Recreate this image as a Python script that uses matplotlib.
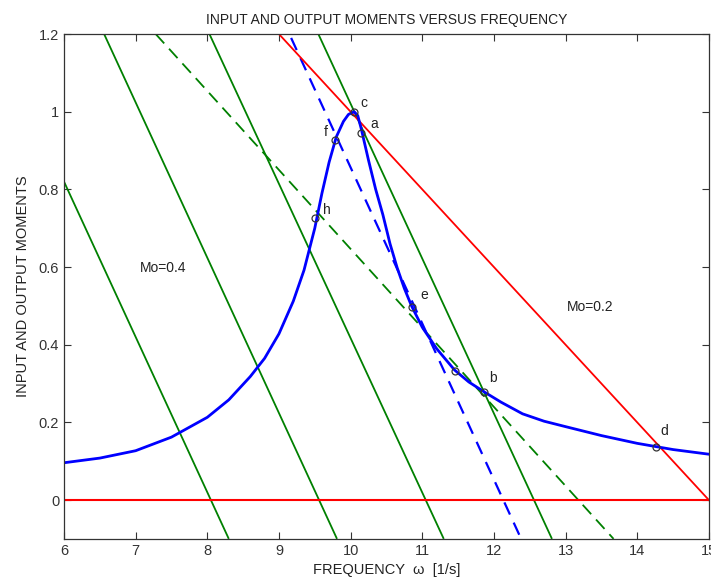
import matplotlib
matplotlib.use("Agg")
import matplotlib.pyplot as plt
from matplotlib import font_manager

# ---- data ----
resp_x = [6.0, 6.5, 7.0, 7.5, 8.0, 8.3, 8.6, 8.8, 9.0, 9.2, 9.35, 9.5, 9.6, 9.7, 9.8, 9.9,
          9.97, 10.05, 10.1, 10.15, 10.25, 10.35, 10.45, 10.55, 10.65, 10.75, 10.85, 11.0,
          11.2, 11.45, 11.65, 11.86, 12.1, 12.4, 12.7, 13.0, 13.5, 14.0, 14.5, 15.0]
resp_y = [0.096, 0.108, 0.127, 0.162, 0.213, 0.258, 0.318, 0.365, 0.428, 0.512, 0.592, 0.70, 0.79,
          0.87, 0.935, 0.975, 0.993, 1.0, 0.99, 0.955, 0.875, 0.80, 0.735, 0.66, 0.598, 0.545,
          0.50, 0.445, 0.39, 0.335, 0.304, 0.279, 0.252, 0.222, 0.203, 0.189, 0.166, 0.146, 0.130, 0.118]

# solid green lines (x at y=1.2 and x at y=-0.1)
green_top_x = [5.05, 6.56, 8.03, 9.55]
green_bot_x = [8.30, 9.81, 11.30, 12.81]
line_y_ends = [1.2, -0.1]

green_dash_x = [7.28, 13.67]
blue_dash_x = [9.17, 12.38]
blue_dash_y = [1.19, -0.1]

red_x = [9.0, 15.0]
red_y = [1.2, 0.0]
red_h_x = [6.0, 15.0]
red_h_y = [0.0, 0.0]

pt_labels = ["c", "a", "f", "h", "e", "", "b", "d"]
pt_x = [10.05, 10.15, 9.78, 9.50, 10.85, 11.46, 11.86, 14.26]
pt_y = [0.998, 0.945, 0.928, 0.726, 0.498, 0.333, 0.279, 0.136]
label_x = [10.13, 10.27, 9.62, 9.62, 10.97, 11.07, 11.94, 14.32]
label_y = [1.005, 0.95, 0.93, 0.73, 0.51, 0.3, 0.295, 0.16]

text_items = ["Mo=0.4", "Mo=0.2"]
text_x = [7.38, 13.34]
text_y = [0.598, 0.497]

xticks = [6, 7, 8, 9, 10, 11, 12, 13, 14, 15]
yticks = [0, 0.2, 0.4, 0.6, 0.8, 1.0, 1.2]
ytick_labels = ["0", "0.2", "0.4", "0.6", "0.8", "1", "1.2"]

# ---- font ----
names = {f.name for f in font_manager.fontManager.ttflist}
fam = ["Liberation Sans Narrow", "DejaVu Sans"] if "Liberation Sans Narrow" in names else ["Liberation Sans", "DejaVu Sans"]
plt.rcParams["font.family"] = fam

fig = plt.figure(figsize=(7.11, 5.87), dpi=100)
ax = fig.add_axes([0.090, 0.082, 0.907, 0.860])

green = "#008000"
for xt, xb in zip(green_top_x, green_bot_x):
    ax.plot([xt, xb], line_y_ends, color=green, lw=1.3, solid_capstyle="butt")
ax.plot(green_dash_x, line_y_ends, color=green, lw=1.3, dashes=(7, 4))
ax.plot(blue_dash_x, blue_dash_y, color="#0000ff", lw=1.6, dashes=(6, 4))
ax.plot(red_x, red_y, color="#ff0000", lw=1.3)
ax.plot(red_h_x, red_h_y, color="#ff0000", lw=1.5)
ax.plot(resp_x, resp_y, color="#0000ff", lw=2.0, solid_joinstyle="round")

ax.plot(pt_x, pt_y, linestyle="none", marker="o", markersize=5, markerfacecolor="none",
        markeredgecolor="#333333", markeredgewidth=0.9)
for lab, lx, ly in zip(pt_labels, label_x, label_y):
    if lab:
        ax.text(lx, ly, lab, fontsize=10, color="#222222", ha="left", va="bottom")

for t, tx, ty in zip(text_items, text_x, text_y):
    ax.text(tx, ty, t, fontsize=10, color="#222222", ha="center", va="center")

ax.set_xlim(6, 15)
ax.set_ylim(-0.1, 1.2)
ax.set_xticks(xticks)
ax.set_yticks(yticks)
ax.set_yticklabels(ytick_labels)
ax.tick_params(direction="in", length=5, top=True, right=True, labelsize=10.5, colors="#333333")
for s in ax.spines.values():
    s.set_color("#333333")
    s.set_linewidth(0.9)

ax.set_title("INPUT AND OUTPUT MOMENTS VERSUS FREQUENCY", fontsize=10, color="#222222", pad=7)
ax.set_xlabel("FREQUENCY  ω  [1/s]", fontsize=10.5, color="#222222", labelpad=4)
ax.set_ylabel("INPUT AND OUTPUT MOMENTS", fontsize=10.5, color="#222222", labelpad=6)

fig.savefig("out.png", dpi=100)
